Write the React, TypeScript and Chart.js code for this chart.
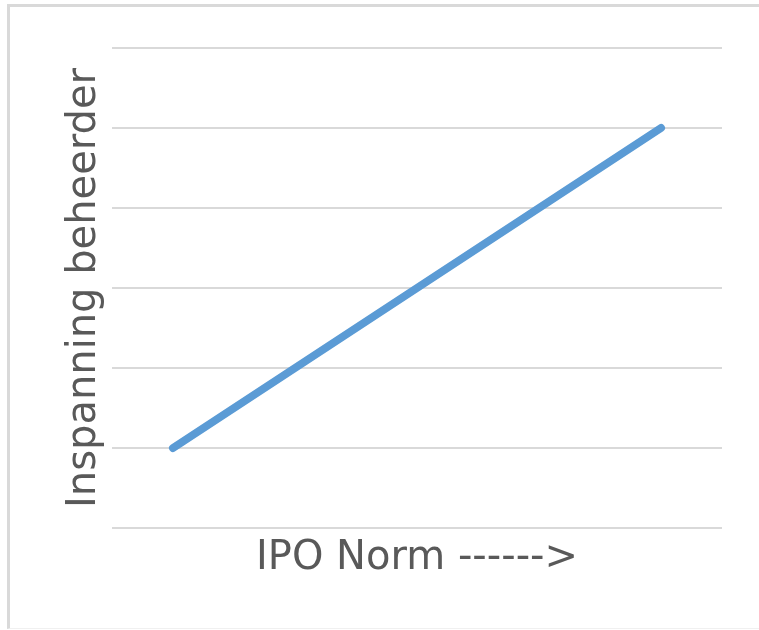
import React, { useEffect, useRef } from "react";
import { Chart, registerables } from "chart.js";

Chart.register(...registerables);

const categories = ["1", "2", "3", "4", "5"];
const effortValues = [1, 2, 3, 4, 5];
const xTitle = "IPO Norm ------>";
const yTitle = "Inspanning beheerder";

export default function App() {
  const ref = useRef<HTMLCanvasElement | null>(null);

  useEffect(() => {
    if (!ref.current) return;
    const chart = new Chart(ref.current, {
      type: "line",
      data: {
        labels: categories,
        datasets: [
          {
            data: effortValues,
            borderColor: "#5B9BD5",
            borderWidth: 8,
            borderCapStyle: "round",
            pointRadius: 0,
            tension: 0,
            fill: false,
          },
        ],
      },
      options: {
        animation: false,
        responsive: false,
        devicePixelRatio: 1,
        layout: { padding: { left: 61, right: 37, top: 48, bottom: 47 } },
        plugins: { legend: { display: false }, tooltip: { enabled: false } },
        scales: {
          x: {
            offset: true,
            grid: { display: false, drawTicks: false },
            border: { display: false },
            ticks: { display: false },
            title: {
              display: true,
              text: xTitle,
              color: "#595959",
              font: { family: "DejaVu Sans", size: 40, lineHeight: 1.2 },
              padding: { top: 7, bottom: 0 },
            },
          },
          y: {
            min: 0,
            max: 6,
            ticks: { display: false, stepSize: 1 },
            grid: { color: "#D9D9D9", lineWidth: 2, drawTicks: false },
            border: { display: false },
            title: {
              display: true,
              text: yTitle,
              color: "#595959",
              font: { family: "DejaVu Sans", size: 40, lineHeight: 1.2 },
              padding: { top: 0, bottom: 3 },
            },
          },
        },
      },
    });
    return () => chart.destroy();
  }, []);

  return (
    <div style={{ position: "absolute", left: 0, top: 0, width: 759, height: 630, background: "#fff" }}>
      <div
        style={{
          position: "absolute",
          left: 7,
          top: 4,
          width: 752,
          height: 625,
          boxSizing: "border-box",
          borderTop: "3px solid #D9D9D9",
          borderLeft: "3px solid #D9D9D9",
          borderBottom: "1px solid #F0F0F0",
        }}
      />
      <canvas ref={ref} width={759} height={630} style={{ position: "absolute", left: 0, top: 0 }} />
    </div>
  );
}
